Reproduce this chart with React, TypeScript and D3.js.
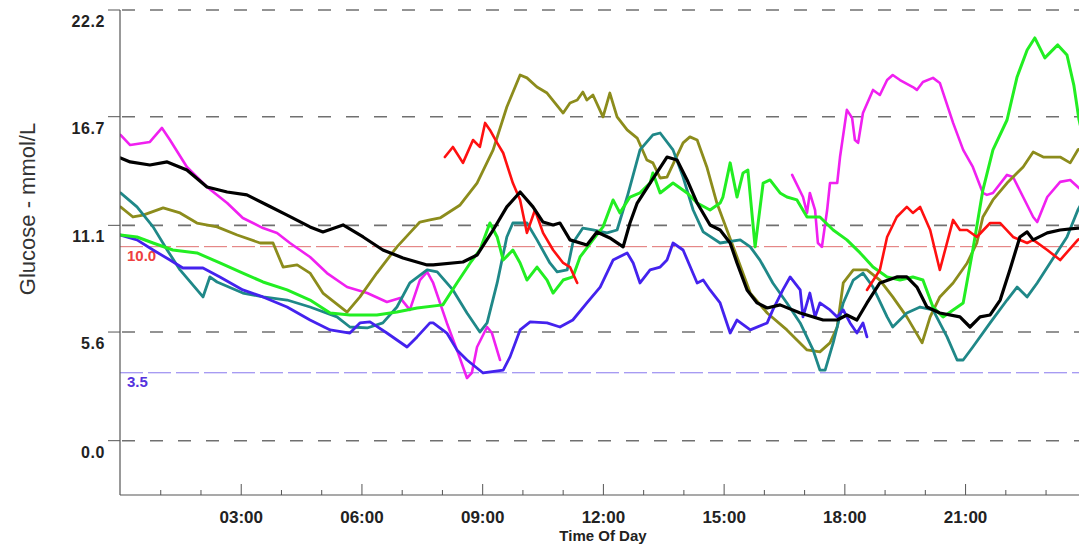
import React from "react";
import * as d3 from "d3";

type P = [number, number];

const yTicks = [0, 5.6, 11.1, 16.7, 22.2];
const yTickLabels = ["0.0", "5.6", "11.1", "16.7", "22.2"];
const xTicksMajor = [3, 6, 9, 12, 15, 18, 21];
const xTickLabels = ["03:00", "06:00", "09:00", "12:00", "15:00", "18:00", "21:00"];
const highLimit = 10.0;
const lowLimit = 3.5;

const magenta1: P[] = [[0,15.76],[0.24,15.24],[0.73,15.4],[1.03,16.12],[1.23,15.5],[1.65,14.11],[2.15,13.08],[2.65,12.25],[3.04,11.48],[3.54,10.96],[3.89,10.71],[4.21,10.19],[4.71,9.47],[5.13,8.64],[5.63,7.92],[6.13,7.61],[6.62,7.15],[6.95,7.36],[7.19,6.74],[7.44,8.28],[7.62,8.7],[7.77,8.13],[8.11,6.07],[8.36,4.68],[8.61,3.23],[8.73,3.49],[8.86,4.83],[9.11,5.86],[9.23,5.55],[9.43,4.16]];
const magenta2: P[] = [[16.69,13.7],[16.96,12.56],[17.06,11.74],[17.13,12.77],[17.26,11.89],[17.33,10.19],[17.43,9.99],[17.56,11.89],[17.63,13.28],[17.81,13.28],[17.88,14.62],[18.05,17.05],[18.18,16.64],[18.25,15.5],[18.33,15.35],[18.45,16.89],[18.7,18.08],[18.87,17.82],[19.05,18.59],[19.19,18.85],[19.37,18.59],[19.69,18.23],[19.79,18.08],[19.94,18.49],[20.19,18.7],[20.36,18.44],[20.69,16.38],[20.94,14.99],[21.18,14.11],[21.43,12.77],[21.53,12.67],[21.68,12.77],[22.03,13.7],[22.18,13.59],[22.43,12.56],[22.68,11.53],[22.78,11.27],[23.03,12.56],[23.35,13.34],[23.6,13.44],[23.79,13.08],[24,12.7]];
const blackSeries: P[] = [[0,14.57],[0.24,14.37],[0.73,14.21],[1.16,14.37],[1.65,13.95],[2.15,13.08],[2.65,12.82],[3.14,12.67],[3.64,12.15],[4.14,11.63],[4.71,11.02],[5.03,10.76],[5.53,11.12],[6.03,10.5],[6.52,9.83],[7.02,9.42],[7.62,9.06],[7.77,9.06],[8.51,9.21],[8.86,9.57],[9.26,10.86],[9.6,12.05],[9.93,12.82],[10.25,12.05],[10.5,11.27],[10.75,11.12],[10.92,11.22],[11.17,10.35],[11.59,10.09],[11.84,10.76],[12.16,10.45],[12.49,9.99],[12.66,11.22],[12.84,12.25],[13.16,13.28],[13.58,14.62],[13.83,14.47],[14.08,13.44],[14.33,12.25],[14.65,11.12],[14.9,10.86],[15.15,10.19],[15.32,9.16],[15.57,7.77],[15.82,7.1],[16.07,6.84],[16.39,7.0],[16.89,6.58],[17.46,6.22],[17.81,6.22],[18.05,6.48],[18.3,6.22],[18.55,7.1],[18.87,8.13],[19.29,8.44],[19.54,8.44],[19.79,7.92],[20.04,6.89],[20.36,6.58],[20.86,6.38],[21.11,5.86],[21.36,6.38],[21.61,6.48],[21.86,7.25],[22.1,8.8],[22.35,10.5],[22.53,10.76],[22.68,10.35],[23.03,10.71],[23.35,10.86],[23.79,10.96],[24,10.96]];
const tealSeries: P[] = [[0,12.77],[0.41,12.05],[0.81,11.02],[1.16,9.83],[1.48,8.8],[2.05,7.41],[2.22,8.44],[2.4,8.18],[3.04,7.61],[3.54,7.41],[4.14,7.25],[4.71,6.89],[5.38,6.38],[5.7,5.86],[6.13,5.81],[6.52,6.07],[6.87,6.89],[7.19,8.13],[7.62,8.8],[7.87,8.7],[8.26,7.77],[8.61,6.58],[8.93,5.6],[9.11,6.07],[9.36,8.13],[9.6,10.5],[9.75,11.22],[10.1,11.22],[10.35,10.35],[10.67,9.16],[10.85,8.7],[11.1,8.8],[11.24,10.19],[11.49,10.96],[11.74,10.86],[12.09,10.71],[12.34,10.86],[12.59,12.56],[12.91,14.99],[13.23,15.76],[13.41,15.86],[13.73,14.99],[13.98,13.59],[14.23,11.89],[14.48,10.76],[14.9,10.19],[15.4,10.35],[15.65,9.99],[15.89,9.31],[16.21,8.13],[16.56,7.1],[16.89,6.07],[17.21,4.68],[17.38,3.64],[17.51,3.64],[17.71,5.04],[17.96,7.1],[18.21,8.28],[18.45,8.64],[18.7,7.92],[19.05,6.38],[19.19,5.86],[19.54,6.58],[19.87,6.89],[20.19,6.74],[20.54,5.35],[20.79,4.16],[20.94,4.16],[21.18,4.83],[21.61,6.07],[22.03,7.25],[22.28,7.92],[22.53,7.41],[22.78,8.13],[23.1,9.16],[23.52,10.5],[23.79,11.89],[24,12.67]];
const oliveSeries: P[] = [[0,12.05],[0.31,11.53],[0.56,11.63],[1.06,12.0],[1.48,11.74],[1.9,11.22],[2.4,11.02],[2.9,10.6],[3.47,10.19],[3.79,10.19],[4.04,8.95],[4.39,9.06],[4.71,8.64],[5.03,7.61],[5.63,6.63],[5.95,7.41],[6.37,8.64],[6.87,9.99],[7.19,10.71],[7.44,11.27],[7.69,11.38],[7.94,11.48],[8.44,12.15],[8.86,13.28],[9.26,14.99],[9.6,17.2],[9.93,18.85],[10.1,18.7],[10.35,18.23],[10.6,17.92],[11.0,16.89],[11.17,17.41],[11.35,17.56],[11.49,17.97],[11.59,17.56],[11.74,17.82],[11.99,16.69],[12.16,17.92],[12.34,16.69],[12.59,16.02],[12.84,15.6],[13.08,14.47],[13.23,14.32],[13.41,13.54],[13.58,13.59],[13.98,15.35],[14.15,15.66],[14.33,15.5],[14.57,14.11],[14.82,12.25],[15.07,10.86],[15.32,9.47],[15.65,7.61],[16.07,6.58],[16.56,5.71],[17.06,4.68],[17.38,4.58],[17.63,5.04],[17.81,5.86],[17.96,8.13],[18.21,8.8],[18.55,8.8],[18.87,8.28],[19.19,7.41],[19.54,6.38],[19.92,5.04],[20.12,6.38],[20.36,7.41],[20.69,8.13],[21.04,9.16],[21.28,10.19],[21.43,11.53],[21.68,12.41],[22.03,13.28],[22.43,14.11],[22.68,14.88],[22.93,14.62],[23.35,14.62],[23.6,14.32],[23.79,14.99],[24,15.2]];
const greenSeries: P[] = [[0,10.6],[0.41,10.5],[0.81,10.19],[1.3,9.83],[1.9,9.68],[2.47,9.16],[3.04,8.64],[3.54,8.18],[4.14,7.77],[4.71,7.25],[5.21,6.58],[5.7,6.48],[6.37,6.48],[6.87,6.63],[7.37,6.84],[8.01,7.0],[8.36,8.13],[8.69,9.16],[8.93,9.83],[9.18,11.22],[9.36,10.5],[9.51,9.31],[9.75,9.83],[9.93,9.16],[10.1,8.28],[10.35,8.95],[10.6,8.28],[10.75,7.61],[11.0,8.28],[11.24,8.44],[11.42,9.47],[11.74,10.35],[11.99,11.02],[12.24,12.41],[12.41,11.74],[12.66,12.56],[12.91,12.77],[13.16,13.28],[13.23,13.8],[13.41,12.77],[13.73,13.28],[14.08,12.77],[14.33,12.25],[14.65,11.89],[14.9,12.25],[14.97,12.56],[15.15,14.32],[15.32,12.56],[15.47,13.8],[15.59,13.95],[15.77,9.99],[15.97,13.28],[16.14,13.44],[16.39,12.77],[16.56,12.56],[16.81,12.41],[17.06,11.53],[17.38,11.53],[17.71,10.86],[18.05,10.35],[18.38,9.68],[18.7,8.95],[19.05,8.44],[19.37,8.28],[19.69,8.44],[19.94,8.28],[20.19,6.89],[20.44,6.38],[20.69,6.74],[20.94,7.1],[21.18,9.83],[21.43,12.92],[21.68,14.99],[22.03,16.53],[22.28,18.75],[22.53,20.14],[22.72,20.76],[22.97,19.73],[23.29,20.4],[23.52,19.88],[23.69,18.33],[23.82,16.53],[24,14.99]];
const blueSeries: P[] = [[0,10.6],[0.41,10.35],[0.81,9.83],[1.23,9.31],[1.55,8.9],[2.05,8.9],[2.47,8.44],[3.04,7.77],[3.54,7.41],[4.14,6.89],[4.71,6.22],[5.21,5.71],[5.7,5.55],[5.95,6.07],[6.2,6.12],[6.62,5.55],[7.12,4.83],[7.37,5.35],[7.69,6.07],[7.77,6.07],[8.11,5.55],[8.36,4.68],[8.61,4.16],[9.01,3.49],[9.51,3.64],[9.68,4.32],[9.93,5.71],[10.18,6.12],[10.6,6.07],[10.92,5.86],[11.24,6.22],[11.59,7.1],[11.92,7.92],[12.24,9.31],[12.59,9.68],[12.74,9.16],[12.91,8.13],[13.16,8.8],[13.41,8.95],[13.58,9.31],[13.73,10.19],[13.98,9.83],[14.33,8.13],[14.48,8.28],[14.65,7.77],[14.9,7.1],[15.15,5.55],[15.32,6.22],[15.65,5.71],[16.07,6.07],[16.21,6.74],[16.46,7.77],[16.64,8.44],[16.89,7.77],[16.96,6.38],[17.13,7.61],[17.26,6.38],[17.38,7.1],[17.63,6.74],[17.81,6.38],[17.96,6.74],[18.13,6.07],[18.3,5.55],[18.45,6.07],[18.55,5.35]];
const red1: P[] = [[8.06,14.62],[8.26,15.14],[8.51,14.32],[8.76,15.5],[8.93,15.14],[9.06,16.38],[9.18,16.02],[9.36,15.35],[9.51,14.83],[9.75,13.28],[9.93,12.41],[10.1,10.71],[10.3,11.89],[10.5,10.71],[10.75,9.83],[11.0,9.16],[11.17,8.95],[11.35,8.13]];
const red2: P[] = [[18.55,7.77],[18.87,8.8],[19.05,10.5],[19.29,11.53],[19.54,12.05],[19.69,11.74],[19.87,12.05],[20.12,10.86],[20.36,8.8],[20.69,11.38],[20.86,10.86],[21.04,10.86],[21.28,10.5],[21.61,11.22],[21.86,11.22],[22.18,10.5],[22.53,10.19],[22.68,10.35],[23.03,9.83],[23.35,9.31],[23.79,10.35],[24,10.6]];

const series = [
  { data: magenta1, color: "#f020f0", w: 2.6 },
  { data: magenta2, color: "#f020f0", w: 2.6 },
  { data: oliveSeries, color: "#8c8c1c", w: 2.8 },
  { data: tealSeries, color: "#1f8888", w: 2.8 },
  { data: blueSeries, color: "#4422ee", w: 2.8 },
  { data: greenSeries, color: "#22ee22", w: 3 },
  { data: red1, color: "#ff1010", w: 2.6 },
  { data: red2, color: "#ff1010", w: 2.6 },
  { data: blackSeries, color: "#000000", w: 3.2 },
];

const W = 1079;
const H = 547;
const FONT = "Arial, 'Liberation Sans', sans-serif";

export default function App() {
  const x = d3.scaleLinear().domain([0, 24]).range([120.5, 1086.3]);
  const y = d3.scaleLinear().domain([-2.8, 22.2]).range([495, 10]);
  const line = d3.line<P>().x((d) => x(d[0])).y((d) => y(d[1]));
  const hours = d3.range(1, 24);
  const axisY = 495;
  const axisX = 120;
  return (
    <svg width={W} height={H} style={{ position: "absolute", left: 0, top: 0, background: "#fff" }} fontFamily={FONT}>
      <defs>
        <clipPath id="plot">
          <rect x={axisX} y={0} width={W - axisX} height={axisY} />
        </clipPath>
      </defs>
      {/* grid lines */}
      {yTicks.map((t, i) => (
        <g key={"g" + i}>
          <line x1={axisX + 2} x2={W} y1={y(t)} y2={y(t)} stroke="#707070" strokeWidth={1.6} strokeDasharray="13,15" />
          <line x1={108} x2={axisX} y1={y(t)} y2={y(t)} stroke="#555" strokeWidth={1} />
          <text x={105} y={y(t) + 17} textAnchor="end" fontSize={16} fontWeight="bold" fill="#222" letterSpacing={0.6}>
            {yTickLabels[i]}
          </text>
        </g>
      ))}
      {/* limit lines */}
      <line x1={axisX} x2={W} y1={y(highLimit)} y2={y(highLimit)} stroke="#e07070" strokeWidth={1} strokeDasharray="23,5" />
      <text x={127} y={y(highLimit) + 14} fontSize={15} fontWeight="bold" fill="#ee4040">
        {highLimit.toFixed(1)}
      </text>
      <line x1={axisX} x2={W} y1={y(lowLimit)} y2={y(lowLimit)} stroke="#8877ee" strokeWidth={1} strokeDasharray="23,5" />
      <text x={127} y={y(lowLimit) + 14} fontSize={15} fontWeight="bold" fill="#5533dd">
        {lowLimit.toFixed(1)}
      </text>
      {/* series */}
      <g clipPath="url(#plot)">
        {series.map((s, i) => (
          <path key={"s" + i} d={line(s.data) || ""} fill="none" stroke={s.color} strokeWidth={s.w} strokeLinejoin="round" strokeLinecap="round" />
        ))}
      </g>
      {/* axes */}
      <line x1={axisX} x2={axisX} y1={10} y2={axisY} stroke="#555" strokeWidth={1.2} />
      <line x1={axisX} x2={W} y1={axisY} y2={axisY} stroke="#555" strokeWidth={1.2} />
      {hours.map((h) => (
        <line key={"t" + h} x1={x(h)} x2={x(h)} y1={axisY} y2={axisY - (h % 3 === 0 ? 11 : 5)} stroke="#555" strokeWidth={1} />
      ))}
      {xTicksMajor.map((h, i) => (
        <text key={"xl" + h} x={x(h)} y={523} textAnchor="middle" fontSize={17} fontWeight="bold" fill="#222">
          {xTickLabels[i]}
        </text>
      ))}
      <text x={603} y={541} textAnchor="middle" fontSize={15} fontWeight="bold" fill="#222">
        Time Of Day
      </text>
      <text transform="translate(35,209) rotate(-90)" textAnchor="middle" fontSize={22} fill="#333">
        Glucose - mmol/L
      </text>
    </svg>
  );
}
